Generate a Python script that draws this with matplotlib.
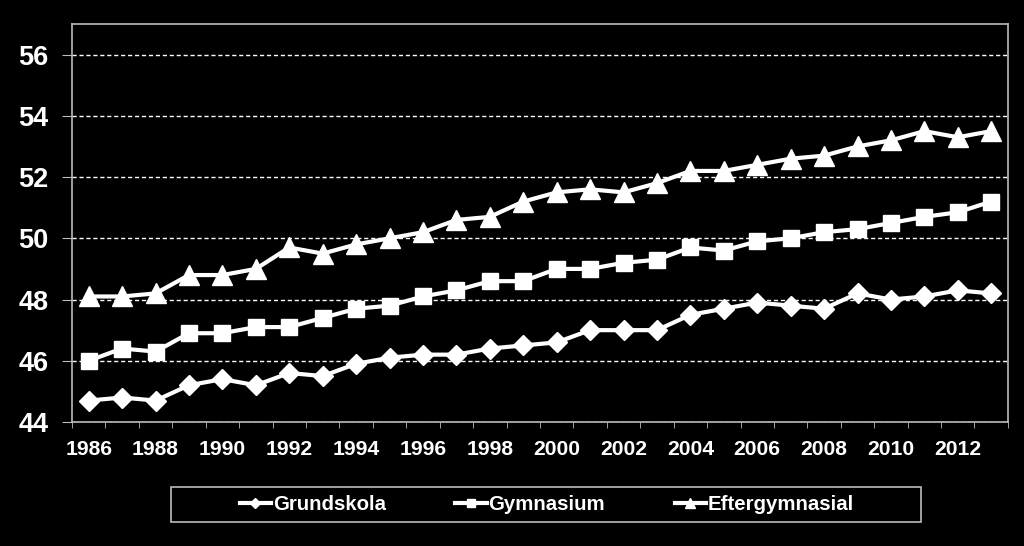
import matplotlib.pyplot as plt
import matplotlib.ticker as mticker
from matplotlib.lines import Line2D
from matplotlib.patches import Rectangle

years = list(range(1986, 2014))
grundskola = [44.7, 44.8, 44.7, 45.2, 45.4, 45.2, 45.6, 45.5, 45.9, 46.1, 46.2, 46.2, 46.4, 46.5,
              46.6, 47.0, 47.0, 47.0, 47.5, 47.7, 47.9, 47.8, 47.7, 48.2, 48.0, 48.1, 48.3, 48.2]
gymnasium = [46.0, 46.4, 46.3, 46.9, 46.9, 47.1, 47.1, 47.4, 47.7, 47.8, 48.1, 48.3, 48.6, 48.6,
             49.0, 49.0, 49.2, 49.3, 49.7, 49.6, 49.9, 50.0, 50.2, 50.3, 50.5, 50.7, 50.85, 51.2]
eftergymnasial = [48.1, 48.1, 48.2, 48.8, 48.8, 49.0, 49.7, 49.5, 49.8, 50.0, 50.2, 50.6, 50.7, 51.2,
                  51.5, 51.6, 51.5, 51.8, 52.2, 52.2, 52.4, 52.6, 52.7, 53.0, 53.2, 53.5, 53.3, 53.5]
names = ['Grundskola', 'Gymnasium', 'Eftergymnasial']

plt.rcParams['font.family'] = ['Liberation Sans', 'DejaVu Sans']
plt.rcParams['font.weight'] = 'bold'

fig = plt.figure(figsize=(10.24, 5.46), dpi=100, facecolor='black')
ax = fig.add_axes([0.0703, 0.2271, 0.914, 0.729], facecolor='black')

ax.plot(years, grundskola, color='white', lw=3, marker='D', ms=10)
ax.plot(years, gymnasium, color='white', lw=3, marker='s', ms=12)
ax.plot(years, eftergymnasial, color='white', lw=3, marker='^', ms=14)

ax.set_ylim(44, 57)
ax.set_xlim(1985.5, 2013.5)
ax.set_yticks(range(44, 57, 2))
ax.yaxis.grid(True, color='white', ls=(0, (3, 2)), lw=1)
ax.set_axisbelow(True)

ax.set_xticks(years[::2])
ax.xaxis.set_minor_locator(mticker.FixedLocator([y - 0.5 for y in years] + [2013.5]))
ax.tick_params(axis='x', which='major', length=0, labelsize=15.2, pad=13)
ax.tick_params(axis='x', which='minor', length=4.5, color='#bbbbbb', direction='out')
ax.tick_params(axis='y', length=7, color='#bbbbbb', direction='out', labelsize=19.5, pad=10)
for lab in ax.get_xticklabels() + ax.get_yticklabels():
    lab.set_color('white')
    lab.set_fontweight('bold')

for s in ax.spines.values():
    s.set_color('#bbbbbb')
    s.set_linewidth(1.2)

# legend box
fig.patches.append(Rectangle((171 / 1024, 1 - 522 / 546), 750 / 1024, 35 / 546,
                             transform=fig.transFigure, facecolor='black',
                             edgecolor='#bbbbbb', lw=1.2))

handles = [Line2D([], [], color='white', lw=3, marker='D', ms=5),
           Line2D([], [], color='white', lw=3, marker='s', ms=6),
           Line2D([], [], color='white', lw=3, marker='^', ms=7)]
leg = fig.legend(handles, names, loc='center', bbox_to_anchor=(0.534, 0.076), ncol=3,
                 frameon=False, handlelength=1.55, handletextpad=0.08,
                 columnspacing=3.4, prop={'size': 14.7, 'weight': 'bold'})
for t in leg.get_texts():
    t.set_color('white')

fig.savefig('out.png', dpi=100, facecolor='black')
